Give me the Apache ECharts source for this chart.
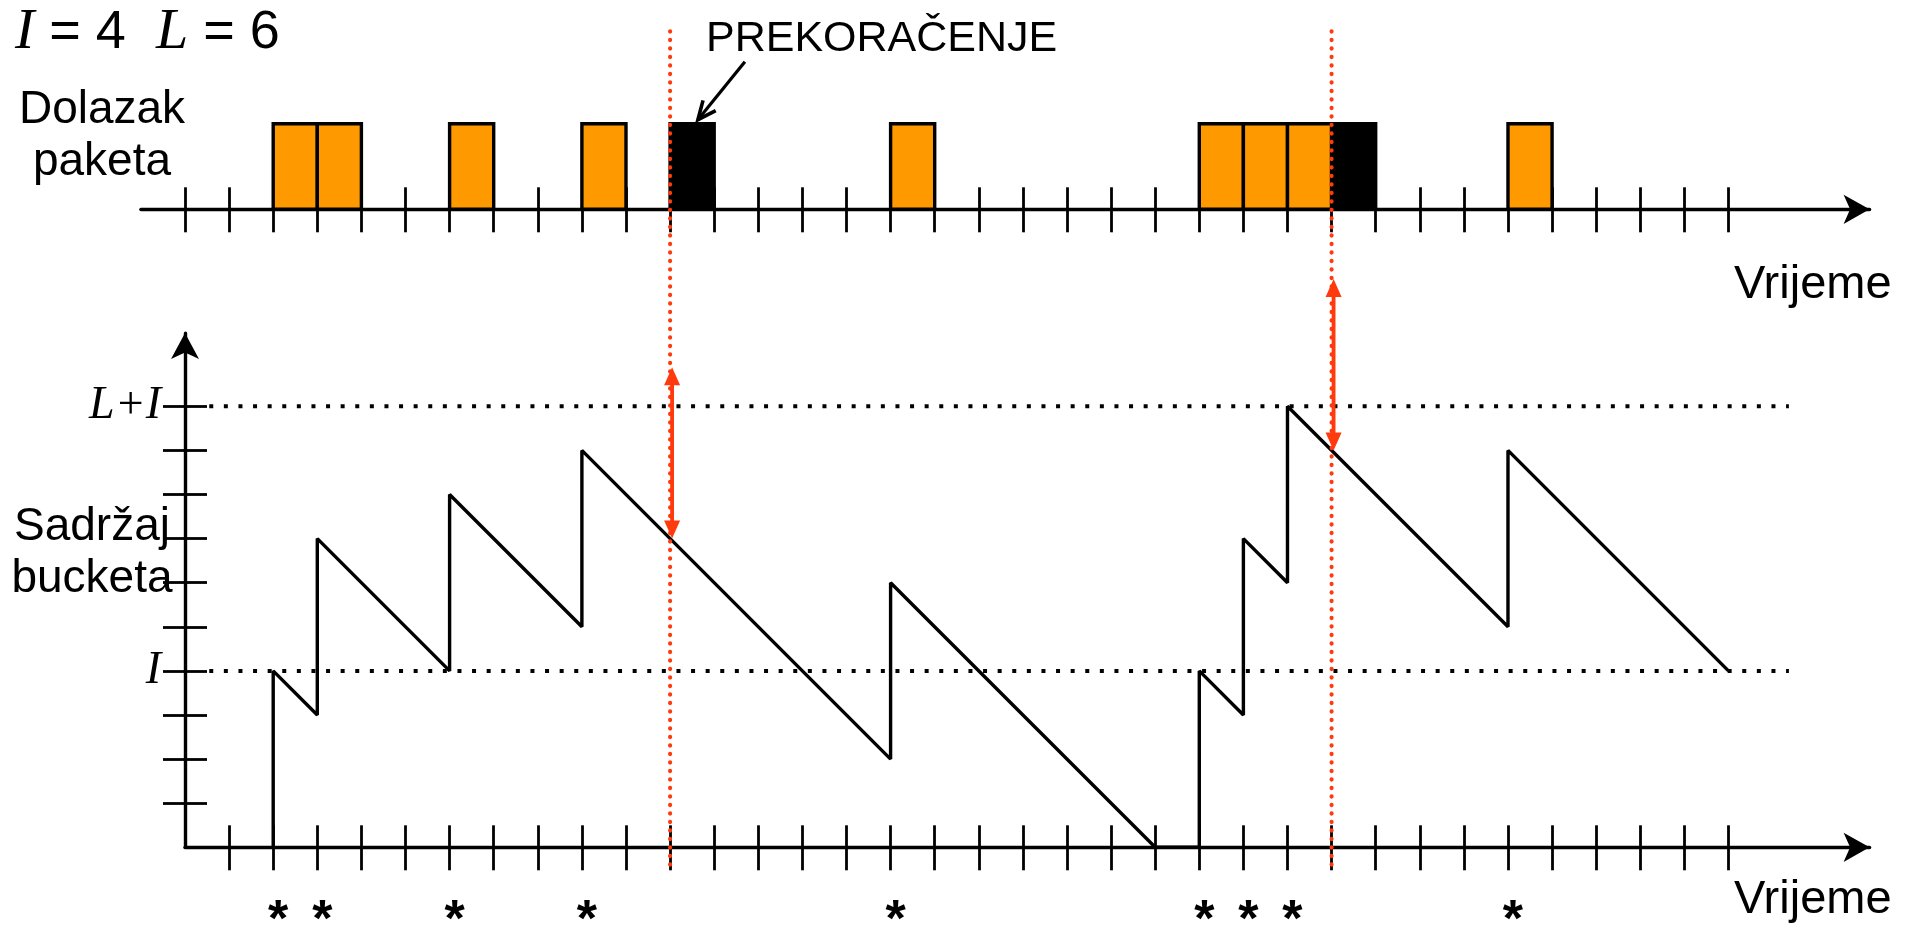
<!DOCTYPE html>
<html>
<head>
<meta charset="utf-8">
<script src="https://cdn.jsdelivr.net/npm/echarts@6/dist/echarts.min.js"></script>
<style>html,body{margin:0;padding:0;background:#fff}#c{width:1916px;height:928px}</style>
</head>
<body>
<div id="c"></div>
<script>
// ---- data ----
const I_VAL = 4;
const L_VAL = 6;
const packetTimes      = [2, 3, 6, 9, 11, 16, 23, 24, 25, 26, 30];
const packetConforming = [1, 1, 1, 1, 0,  1,  1,  1,  1,  0,  1];
const starTimes        = [2, 3, 6, 9, 16, 23, 24, 25, 30];
const overflowTimes    = [11, 26];
const overflowBefore   = [7, 9];
const overflowAfter    = [11, 13];
const bucketX = [2, 2, 3, 3, 6, 6, 9, 9, 16, 16, 22, 23, 23, 24, 24, 25, 25, 30, 30, 35];
const bucketY = [0, 4, 3, 7, 4, 8, 5, 9, 2,  6,  0,  0,  4,  3,  7,  6,  10, 5,  9,  4];
const yLabelValues = [I_VAL, L_VAL + I_VAL];
const yLabelTexts  = ['I', 'L+I'];
const topTicks = [];    for (let k = 0; k <= 35; k++) topTicks.push(k);
const bottomTicks = []; for (let k = 1; k <= 35; k++) bottomTicks.push(k);
const yTicks = [];      for (let k = 1; k <= 10; k++) yTicks.push(k);

const RED = '#ff3a0c';
const chart = echarts.init(document.getElementById('c'));

function baseX(grid, min, max, inside, len, showLine, ticks) {
  return {
    type: 'value', gridIndex: grid, min: min, max: max, position: 'bottom', offset: 0,
    axisLine: { show: showLine, onZero: false, symbol: ['none', 'arrow'], symbolSize: [22, 26],
      lineStyle: { color: '#000', width: 3.4 } },
    axisTick: { show: true, inside: inside, length: len, customValues: ticks,
      lineStyle: { color: '#000', width: 2.8 } },
    axisLabel: { show: false }, splitLine: { show: false }
  };
}

const option = {
  animation: false,
  backgroundColor: '#ffffff',
  grid: [
    { left: 185, top: 333.1, width: 1684.6, height: 514.2, outerBoundsMode: 'none', containLabel: false },
    { left: 140.9, top: 123.7, width: 1728.7, height: 85.6, outerBoundsMode: 'none', containLabel: false }
  ],
  xAxis: [
    baseX(0, 0, 38.2, true, 22, true, bottomTicks),
    baseX(0, 0, 38.2, false, 23, false, bottomTicks),
    baseX(1, -1, 38.2, true, 22, true, topTicks),
    baseX(1, -1, 38.2, false, 23, false, topTicks)
  ],
  yAxis: [
    { type: 'value', gridIndex: 0, min: 0, max: 11.66, position: 'left', offset: 0,
      axisLine: { show: true, onZero: false, symbol: ['none', 'arrow'], symbolSize: [21, 26],
        lineStyle: { color: '#000', width: 3.4 } },
      axisTick: { show: true, inside: false, length: 22, customValues: yTicks,
        lineStyle: { color: '#000', width: 2.8 } },
      axisLabel: { show: true, customValues: yLabelValues, margin: 24, color: '#000',
        fontFamily: 'Liberation Serif', fontStyle: 'italic', fontSize: 46,
        formatter: function (v) { const i = yLabelValues.indexOf(v); return i >= 0 ? yLabelTexts[i] : ''; } },
      splitLine: { show: false } },
    { type: 'value', gridIndex: 0, min: 0, max: 11.66, position: 'left', offset: 0,
      axisLine: { show: false, onZero: false },
      axisTick: { show: true, inside: true, length: 22, customValues: yTicks,
        lineStyle: { color: '#000', width: 2.8 } },
      axisLabel: { show: false }, splitLine: { show: false } },
    { type: 'value', gridIndex: 1, min: 0, max: 1, show: false }
  ],
  series: [
    { // reference levels I and L+I
      type: 'custom', xAxisIndex: 0, yAxisIndex: 0, clip: false, z: 3,
      data: yLabelValues,
      renderItem: function (params, api) {
        const v = api.value(0);
        const a = api.coord([0.55, v]), b = api.coord([36.37, v]);
        return { type: 'line', shape: { x1: a[0], y1: a[1], x2: b[0], y2: b[1] },
          style: { stroke: '#000', lineWidth: 4, lineDash: [4, 10.6] } };
      }
    },
    { // bucket content
      type: 'line', xAxisIndex: 0, yAxisIndex: 0, symbol: 'none', z: 5, clip: false,
      data: bucketX.map((x, i) => [x, bucketY[i]]),
      lineStyle: { color: '#000', width: 3.4 }
    },
    { // packet arrivals
      type: 'custom', xAxisIndex: 2, yAxisIndex: 2, clip: false, z: 4,
      data: packetTimes.map((t, i) => [t, packetConforming[i]]),
      renderItem: function (params, api) {
        const t = api.value(0), ok = api.value(1);
        const p0 = api.coord([t, 0]), p1 = api.coord([t + 1, 1]);
        return { type: 'rect',
          shape: { x: p0[0], y: p1[1], width: p1[0] - p0[0], height: p0[1] - p1[1] },
          style: { fill: ok ? '#ff9900' : '#000', stroke: '#000', lineWidth: 3.4 } };
      }
    },
    { // overflow markers
      type: 'custom', xAxisIndex: 0, yAxisIndex: 0, clip: false, z: 10,
      data: overflowTimes.map((t, i) => [t, overflowBefore[i], overflowAfter[i]]),
      renderItem: function (params, api) {
        const t = api.value(0), lo = api.value(1), hi = api.value(2);
        const top = api.coord([t, 18.5]), bot = api.coord([t, -0.55]);
        const a = api.coord([t, hi]), b = api.coord([t, lo]);
        const x = a[0] + 2, ya = a[1] + 5, yb = b[1];
        const hl = 18, hw = 8;
        return { type: 'group', children: [
          { type: 'line', shape: { x1: top[0], y1: top[1], x2: bot[0], y2: bot[1] },
            style: { stroke: RED, lineWidth: 4.2, lineDash: [0.1, 8.4], lineCap: 'round' } },
          { type: 'line', shape: { x1: x, y1: ya + hl - 2, x2: x, y2: yb - hl + 2 },
            style: { stroke: RED, lineWidth: 3.8 } },
          { type: 'polygon', shape: { points: [[x, ya], [x - hw, ya + hl], [x + hw, ya + hl]] },
            style: { fill: RED } },
          { type: 'polygon', shape: { points: [[x, yb], [x - hw, yb - hl], [x + hw, yb - hl]] },
            style: { fill: RED } }
        ] };
      }
    },
    { // pointer to first overflowing packet
      type: 'custom', xAxisIndex: 2, yAxisIndex: 2, clip: false, z: 10,
      data: [overflowTimes[0]],
      renderItem: function (params, api) {
        const t = api.value(0);
        const p = api.coord([t + 0.63, 1]);
        const tx = p[0], ty = p[1] - 4;
        const ex = tx + 47, ey = ty - 58;
        const ang = Math.atan2(ey - ty, ex - tx);
        const hl = 20, sp = 0.42;
        const h1 = [tx + hl * Math.cos(ang + sp), ty + hl * Math.sin(ang + sp)];
        const h2 = [tx + hl * Math.cos(ang - sp), ty + hl * Math.sin(ang - sp)];
        return { type: 'group', children: [
          { type: 'line', shape: { x1: tx, y1: ty, x2: ex, y2: ey }, style: { stroke: '#000', lineWidth: 3.2 } },
          { type: 'polyline', shape: { points: [h1, [tx, ty], h2] }, style: { stroke: '#000', lineWidth: 3.6, fill: null } }
        ] };
      }
    },
    { // stars under conforming arrivals
      type: 'custom', xAxisIndex: 0, yAxisIndex: 0, clip: false, z: 6,
      data: starTimes,
      renderItem: function (params, api) {
        const p = api.coord([api.value(0), 0]);
        return { type: 'text', x: p[0] + 5, y: p[1] + 74,
          style: { text: '*', fill: '#000', font: 'bold 52px "Liberation Sans"', align: 'center', verticalAlign: 'middle' } };
      }
    }
  ],
  graphic: [
    { type: 'text', x: 15, y: 33,
      style: { text: '{i|I} = ' + I_VAL + '  {i|L} = ' + L_VAL, fill: '#000', fontFamily: 'Liberation Sans', fontSize: 54,
        verticalAlign: 'middle',
        rich: { i: { fontFamily: 'Liberation Serif', fontStyle: 'italic', fontSize: 58, fill: '#000' } } } },
    { type: 'text', x: 706, y: 39,
      style: { text: 'PREKORAČENJE', fill: '#000', font: '43px "Liberation Sans"', verticalAlign: 'middle' } },
    { type: 'text', x: 102, y: 136,
      style: { text: 'Dolazak\npaketa', fill: '#000', font: '46px "Liberation Sans"', lineHeight: 52, align: 'center', verticalAlign: 'middle' } },
    { type: 'text', x: 92, y: 553,
      style: { text: 'Sadržaj\nbucketa', fill: '#000', font: '46px "Liberation Sans"', lineHeight: 52, align: 'center', verticalAlign: 'middle' } },
    { type: 'text', x: 1734, y: 285,
      style: { text: 'Vrijeme', fill: '#000', font: '47px "Liberation Sans"', verticalAlign: 'middle' } },
    { type: 'text', x: 1734, y: 900,
      style: { text: 'Vrijeme', fill: '#000', font: '47px "Liberation Sans"', verticalAlign: 'middle' } }
  ]
};
chart.setOption(option);
</script>
</body>
</html>
